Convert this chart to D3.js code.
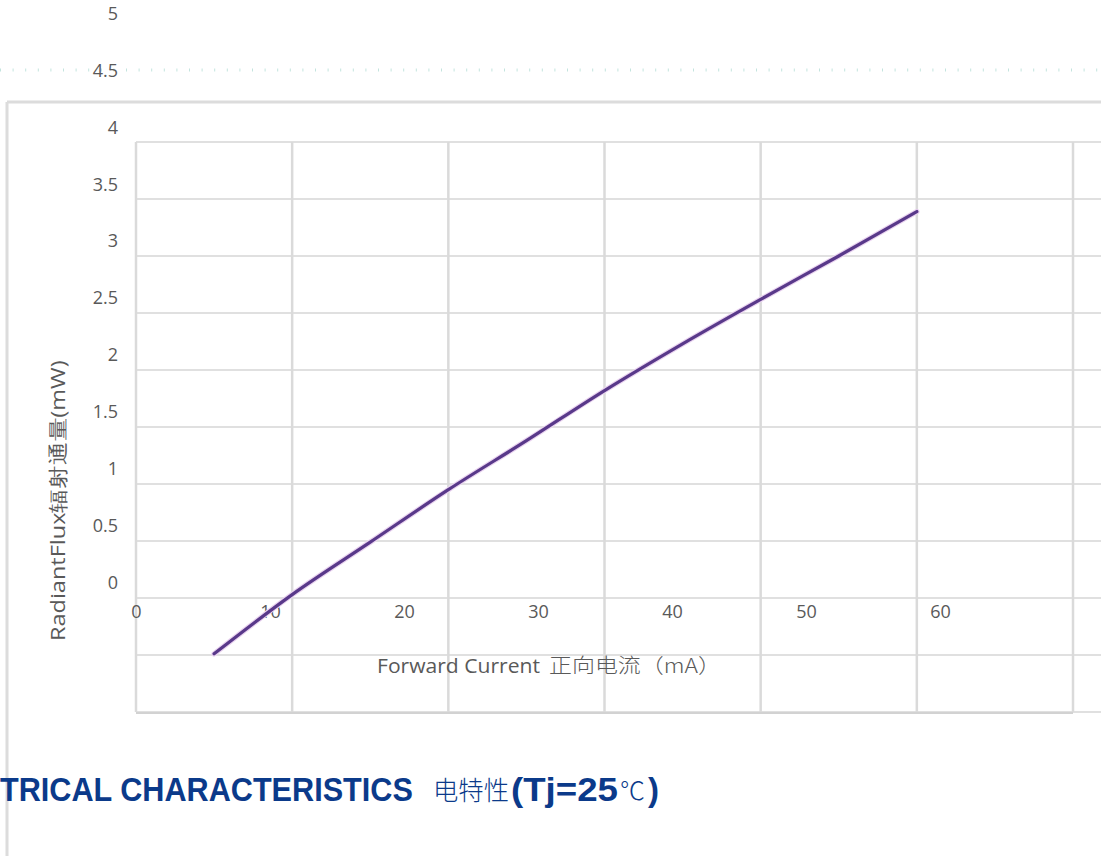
<!DOCTYPE html>
<html>
<head>
<meta charset="utf-8">
<script src="https://cdn.jsdelivr.net/npm/d3@7/dist/d3.min.js"></script>
<style>
  html, body { margin: 0; padding: 0; background: #fff; }
  svg { display: block; }
</style>
</head>
<body>
<svg id="chart" width="1101" height="856"></svg>
<script>
// ---- data ----
const currentMA = [5, 10, 15, 20, 25, 30, 35, 40, 45, 50];
const fluxMW    = [0.51, 1.03, 1.49, 1.95, 2.38, 2.82, 3.23, 3.62, 4.00, 4.39];
const xTickLabels = [0, 10, 20, 30, 40, 50, 60];
const yTickLabels = [0, 0.5, 1, 1.5, 2, 2.5, 3, 3.5, 4, 4.5, 5];
const gridX = [0, 10, 20, 30, 40, 50, 60];
const gridY = [0, 0.5, 1, 1.5, 2, 2.5, 3, 3.5, 4, 4.5, 5];
const xTitle = ["Forward Current", "正向电流（mA）"];
const yTitle = "RadiantFlux辐射通量(mW)";
const titleParts = ["TRICAL CHARACTERISTICS", "电特性", "(Tj=25", "℃", ")"];

const svg = d3.select("#chart");
const labelFont = "'Open Sans', 'Noto Sans', sans-serif";

// plot (grid) scales
const x = d3.scaleLinear().domain([0, 60]).range([136, 1073]);
const y = d3.scaleLinear().domain([0, 5]).range([712, 142]);
// tick-label scales (labels are offset from the grid in the reference)
const xl = d3.scaleLinear().domain([0, 60]).range([136, 940]);
const yl = d3.scaleLinear().domain([0, 5]).range([582, 13]);

// outer frame
svg.append("line").attr("x1", 7).attr("x2", 1101).attr("y1", 102).attr("y2", 102)
  .attr("stroke", "#dcdcdc").attr("stroke-width", 3);
svg.append("line").attr("x1", 7).attr("x2", 7).attr("y1", 102).attr("y2", 856)
  .attr("stroke", "#dcdcdc").attr("stroke-width", 3);

// dotted line at top
svg.append("line").attr("x1", 0).attr("x2", 1101).attr("y1", yl(4.5)).attr("y2", yl(4.5))
  .attr("stroke", "#c3e4de").attr("stroke-width", 3).attr("stroke-dasharray", "1,11.6");

// grid
const grid = svg.append("g");
grid.selectAll("line.h").data(gridY).join("line").attr("class", "h")
  .attr("x1", x(0)).attr("x2", 1101)
  .attr("y1", d => y(d)).attr("y2", d => y(d))
  .attr("stroke", "#e0e0e0").attr("stroke-width", 2);
grid.selectAll("line.v").data(gridX).join("line").attr("class", "v")
  .attr("x1", d => x(d)).attr("x2", d => x(d))
  .attr("y1", y(5)).attr("y2", y(0))
  .attr("stroke", "#dadada").attr("stroke-width", 2.5);
svg.append("line").attr("x1", x(0)).attr("x2", x(60)).attr("y1", y(0) + 1).attr("y2", y(0) + 1)
  .attr("stroke", "#d2d2d2").attr("stroke-width", 2);

// y tick labels
const yAxis = d3.axisLeft(yl).tickValues(yTickLabels).tickSize(0).tickPadding(0)
  .tickFormat(d3.format("~g"));
const gy = svg.append("g").attr("transform", "translate(118,0)").call(yAxis);
gy.select(".domain").remove();
gy.selectAll("text").attr("font-family", labelFont).attr("font-size", 18)
  .attr("fill", "#595959").attr("dy", "0.35em");

// x tick labels
const xAxis = d3.axisBottom(xl).tickValues(xTickLabels).tickSize(0).tickPadding(0)
  .tickFormat(d3.format("~g"));
const gx = svg.append("g").attr("transform", "translate(0,612)").call(xAxis);
gx.select(".domain").remove();
gx.selectAll("text").attr("font-family", labelFont).attr("font-size", 18)
  .attr("fill", "#595959").attr("dy", "0.35em");

// line
const line = d3.line().x((d, i) => x(currentMA[i])).y(d => y(d)).curve(d3.curveMonotoneX);
svg.append("path").datum(fluxMW).attr("d", line)
  .attr("fill", "none").attr("stroke", "#ead4f0").attr("stroke-width", 5.5).attr("stroke-linecap", "round");
svg.append("path").datum(fluxMW).attr("d", line)
  .attr("fill", "none").attr("stroke", "#59398a").attr("stroke-width", 3.2).attr("stroke-linecap", "round");

// helper: place text so that it spans exactly `w` pixels starting at x0 (scaled horizontally)
function fitText(sel, x0, y0, w) {
  const nat = sel.node().getComputedTextLength();
  const sx = w / nat;
  sel.attr("x", 0).attr("y", 0).attr("transform", `translate(${x0},${y0}) scale(${sx},1)`);
  return sel;
}

// x title
fitText(svg.append("text")
  .attr("font-family", labelFont).attr("font-size", 20).attr("fill", "#595959")
  .text(xTitle[0]), 377, 673, 163);
fitText(svg.append("text")
  .attr("font-family", "'Noto Sans CJK SC', sans-serif").attr("font-weight", 300)
  .attr("font-size", 20).attr("fill", "#595959").text(xTitle[1]), 549, 673, 172);

// y title
const yt = svg.append("text")
  .attr("font-family", labelFont).attr("font-size", 20).attr("fill", "#595959")
  .text(yTitle);
const ytLen = yt.node().getComputedTextLength();
yt.attr("transform", `translate(65,641) rotate(-90) scale(${280 / ytLen},1)`);

// page title
const blue = "#0b3a8a";
const tFont = "'Liberation Sans', Arial, sans-serif";
fitText(svg.append("text").attr("font-family", tFont).attr("font-weight", "bold")
  .attr("font-size", 33).attr("fill", blue).text(titleParts[0]), 0, 801, 413);
fitText(svg.append("text").attr("font-family", "'Noto Sans CJK SC', sans-serif")
  .attr("font-weight", 300).attr("font-size", 26).attr("fill", blue).text(titleParts[1]), 433, 800, 76);
fitText(svg.append("text").attr("font-family", tFont).attr("font-weight", "bold")
  .attr("font-size", 33).attr("fill", blue).text(titleParts[2]), 511, 801, 107);
svg.append("text").attr("x", 620).attr("y", 800).attr("font-family", "'Noto Sans CJK SC', sans-serif")
  .attr("font-weight", 300).attr("font-size", 25).attr("fill", blue).text(titleParts[3]);
svg.append("text").attr("x", 648).attr("y", 801).attr("font-family", tFont).attr("font-weight", "bold")
  .attr("font-size", 33).attr("fill", blue).text(titleParts[4]);
</script>
</body>
</html>
